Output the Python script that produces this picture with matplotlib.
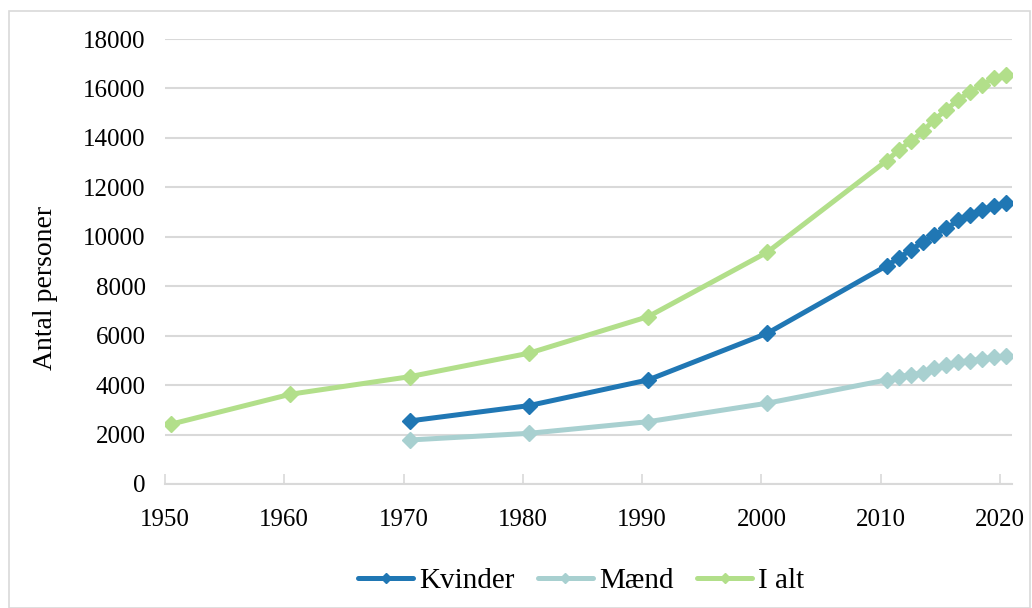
import numpy as np
import matplotlib
matplotlib.use("Agg")
import matplotlib.pyplot as plt
from matplotlib.patches import Rectangle

plt.rcParams['font.family'] = ['Liberation Serif', 'DejaVu Serif']

years_alt = [1950, 1960, 1970, 1980, 1990, 2000, 2010, 2011, 2012, 2013, 2014,
             2015, 2016, 2017, 2018, 2019, 2020]
years_kon = [1970, 1980, 1990, 2000, 2010, 2011, 2012, 2013, 2014,
             2015, 2016, 2017, 2018, 2019, 2020]

kvinder = [2550, 3170, 4210, 6100, 8830, 9140, 9470, 9770, 10080,
           10350, 10660, 10890, 11090, 11250, 11360]
maend = [1780, 2050, 2520, 3270, 4210, 4340, 4410, 4500, 4680,
         4820, 4930, 4990, 5050, 5130, 5180]
i_alt = [2420, 3630, 4340, 5290, 6770, 9380, 13080, 13500, 13860, 14260, 14740,
         15140, 15550, 15860, 16150, 16420, 16560]

labels = ["Kvinder", "Mænd", "I alt"]
colors = ["#2077b4", "#a8d0d0", "#b2df8a"]

fig = plt.figure(figsize=(10.32, 6.08), dpi=100)
ax = fig.add_axes([165/1032, 1 - 484/608, (1012-165)/1032, (484-39)/608])

# points sit in the middle of each year on the date axis
half = 0.5
series = [(years_kon, kvinder), (years_kon, maend), (years_alt, i_alt)]
for (yrs, vals), lab, col in zip(series, labels, colors):
    ax.plot(np.array(yrs) + half, vals, color=col, lw=3.6, marker='D',
            ms=8.5, mec=col, mfc=col, label=lab, solid_capstyle='round')

ax.set_xlim(1950, 2021)
ax.set_ylim(0, 18000)
ax.set_xticks(range(1950, 2021, 10))
ax.set_yticks(range(0, 18001, 2000))
ax.tick_params(axis='x', direction='in', length=7, width=1.2, color='#d9d9d9',
               labelsize=18, pad=18)
ax.tick_params(axis='y', length=0, labelsize=18, pad=14)
ax.grid(axis='y', color='#d9d9d9', lw=1.5)
ax.set_axisbelow(True)
for s in ['left', 'right', 'top']:
    ax.spines[s].set_visible(False)
ax.spines['bottom'].set_color('#d9d9d9')
ax.spines['bottom'].set_linewidth(1.5)

ax.set_ylabel("Antal personer", fontsize=20)
ax.yaxis.set_label_coords(-(165-58)/847, 0.44)

leg = ax.legend(loc='center', bbox_to_anchor=((581-165)/847, -(581-484)/445),
                ncol=3, frameon=False, fontsize=21, handlelength=1.9,
                handletextpad=0.2, columnspacing=0.8, markerscale=0.6)

fig.patches.append(Rectangle((9/1032, 0), 1 - 9/1032 - 0.002, 1 - 11/608,
                             transform=fig.transFigure, fill=False,
                             edgecolor='#d9d9d9', lw=1.2))

fig.savefig("out.png", dpi=100)
